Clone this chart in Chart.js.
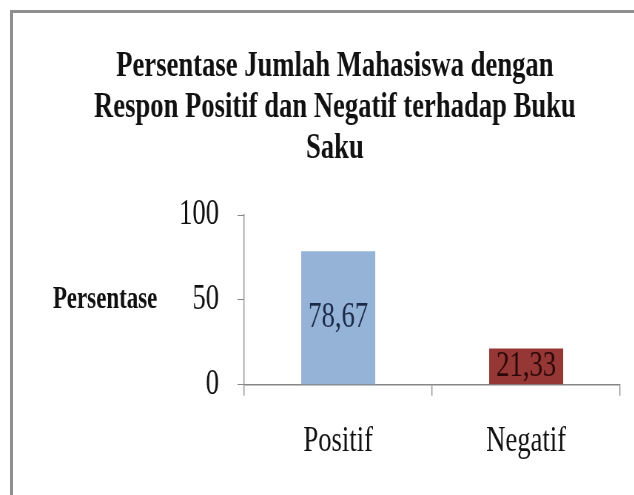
<!DOCTYPE html>
<html>
<head>
<meta charset="utf-8">
<script src="https://cdn.jsdelivr.net/npm/chart.js@4"></script>
<style>
  html, body { margin: 0; padding: 0; background: #ffffff; overflow: hidden; width: 634px; height: 495px; }
  #frame { position: absolute; left: 10px; top: 10px; width: 624px; height: 485px; border-left: 3px solid #8f8f8f; border-top: 3px solid #8f8f8f; box-sizing: border-box; }
  #wrap { position: absolute; left: 0; top: 0; width: 905px; height: 495px; transform: scaleX(0.74); transform-origin: 0 0; }
</style>
</head>
<body>
<div id="frame"></div>
<div id="wrap"><canvas id="c" width="905" height="495"></canvas></div>
<script>
const categories = ['Positif', 'Negatif'];
const values = [78.67, 21.33];
const yTicks = [0, 50, 100];
const titleLines = ['Persentase Jumlah Mahasiswa dengan', 'Respon Positif dan Negatif terhadap Buku', 'Saku'];
const yAxisTitle = 'Persentase';
const barColors = ['#95B3D7', '#953735'];
const valueLabelColors = ['#1C2B4A', '#2A0808'];

const FONT = '"Liberation Serif", "Times New Roman", serif';
Chart.defaults.font.family = FONT;
Chart.defaults.color = '#111111';

const valueLabels = {
  id: 'valueLabels',
  afterDatasetsDraw(chart) {
    const ctx = chart.ctx;
    const meta = chart.getDatasetMeta(0);
    ctx.save();
    ctx.font = 'normal 36px ' + FONT;
    ctx.textAlign = 'center';
    ctx.textBaseline = 'middle';
    meta.data.forEach((bar, i) => {
      const p = bar.getProps(['x', 'y', 'base'], true);
      ctx.fillStyle = valueLabelColors[i];
      ctx.fillText(values[i].toFixed(2).replace('.', ','), p.x, (p.y + p.base) / 2);
    });
    ctx.restore();
  }
};

const sideTitle = {
  id: 'sideTitle',
  afterDraw(chart) {
    const ctx = chart.ctx;
    const y = chart.scales.y;
    ctx.save();
    ctx.font = 'bold 31px ' + FONT;
    ctx.fillStyle = '#111111';
    ctx.textAlign = 'center';
    ctx.textBaseline = 'middle';
    ctx.fillText(yAxisTitle, 142, y.getPixelForValue(50));
    ctx.restore();
  }
};

new Chart(document.getElementById('c'), {
  type: 'bar',
  data: {
    labels: categories,
    datasets: [{
      data: values,
      backgroundColor: barColors,
      borderWidth: 0,
      barPercentage: 0.394,
      categoryPercentage: 1
    }]
  },
  options: {
    responsive: false,
    animation: false,
    devicePixelRatio: 1,
    layout: { padding: { left: 67, right: 67, top: 0, bottom: 8 } },
    plugins: {
      legend: { display: false },
      tooltip: { enabled: false },
      title: {
        display: true,
        text: titleLines,
        color: '#111111',
        font: { size: 36, weight: 'bold', lineHeight: 41 / 36 },
        padding: { top: 46, bottom: 46 }
      }
    },
    scales: {
      x: {
        offset: true,
        grid: { display: true, offset: true, drawOnChartArea: false, tickLength: 11, color: '#868686', lineWidth: 1.35 },
        border: { display: true, color: '#868686', width: 1.5 },
        ticks: { font: { size: 36 }, color: '#111111', padding: 24, maxRotation: 0, autoSkip: false }
      },
      y: {
        min: 0,
        max: 100,
        afterBuildTicks(scale) { scale.ticks = yTicks.map(v => ({ value: v })); },
        afterFit(scale) { scale.width = 263; },
        grid: { display: true, drawOnChartArea: false, tickLength: 9, color: '#868686', lineWidth: 1 },
        border: { display: true, color: '#868686', width: 1.35 },
        ticks: { font: { size: 36 }, color: '#111111', padding: 25 }
      }
    }
  },
  plugins: [valueLabels, sideTitle]
});
</script>
</body>
</html>
